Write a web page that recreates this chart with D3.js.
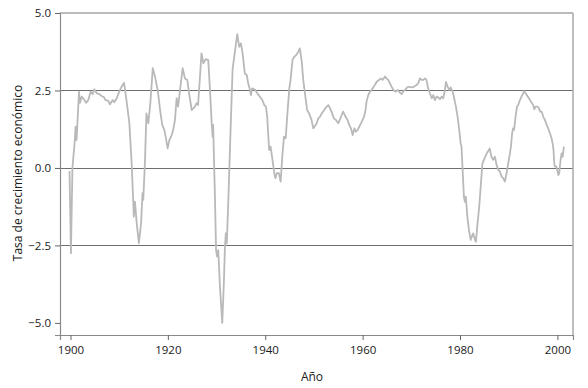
<!DOCTYPE html>
<html><head><meta charset="utf-8">
<script src="https://cdn.jsdelivr.net/npm/d3@7"></script>
<style>
html,body{margin:0;padding:0;background:#fff;}
text{font-family:"Open Sans","Noto Sans",sans-serif;fill:#1a1a1a;}
</style></head>
<body><svg id="c" width="588" height="388"></svg>
<script>
const years = [1899.8,1900.1,1900.4,1900.85,1901.05,1901.25,1901.75,1901.95,1902.3,1902.75,1903.2,1903.65,1904.15,1904.55,1904.9,1905.4,1905.85,1906.4,1906.9,1907.2,1907.75,1908.1,1908.65,1909.0,1909.5,1910.0,1910.5,1911.0,1911.5,1912.1,1912.6,1912.9,1913.0,1913.25,1913.6,1914.05,1914.5,1914.8,1914.95,1915.3,1915.6,1916.0,1916.4,1916.9,1917.35,1917.9,1918.17,1918.4,1918.85,1919.27,1919.6,1919.95,1920.3,1920.8,1921.1,1921.46,1921.8,1922.1,1922.5,1923.04,1923.5,1924.0,1924.3,1924.9,1925.56,1925.9,1926.2,1926.6,1926.9,1927.3,1927.76,1928.3,1928.65,1929.0,1929.2,1929.3,1929.67,1929.9,1930.1,1930.35,1930.7,1931.17,1931.5,1931.7,1931.9,1932.1,1932.4,1932.9,1933.3,1934.25,1934.65,1935.0,1935.35,1935.8,1936.2,1936.5,1936.86,1937.06,1937.3,1937.9,1938.36,1938.9,1939.4,1939.8,1940.14,1940.4,1940.8,1941.1,1941.4,1941.85,1942.1,1942.35,1942.8,1943.16,1943.5,1943.84,1944.2,1944.5,1944.94,1945.2,1945.6,1945.96,1946.4,1946.8,1947.1,1947.5,1947.8,1948.15,1948.6,1949.0,1949.5,1949.86,1950.2,1950.5,1950.9,1951.23,1951.6,1952.1,1952.6,1952.94,1953.3,1953.6,1954.1,1954.5,1955.0,1955.3,1955.7,1956.0,1956.5,1956.9,1957.25,1957.6,1957.95,1958.3,1958.6,1958.97,1959.3,1959.8,1960.27,1960.6,1960.8,1961.15,1961.5,1961.85,1962.2,1962.5,1962.9,1963.35,1963.76,1964.1,1964.6,1964.9,1965.26,1965.6,1965.95,1966.3,1966.8,1967.2,1967.66,1968.0,1968.3,1968.7,1969.15,1969.57,1970.05,1970.5,1971.1,1971.4,1971.77,1972.1,1972.45,1972.8,1973.1,1973.45,1973.8,1974.2,1974.5,1974.85,1975.2,1975.5,1975.87,1976.2,1976.55,1976.9,1977.1,1977.45,1977.8,1978.07,1978.5,1978.8,1979.16,1979.5,1979.84,1980.12,1980.3,1980.5,1980.8,1981.0,1981.2,1981.5,1981.83,1982.2,1982.4,1982.7,1983.06,1983.26,1983.6,1983.94,1984.3,1984.6,1985.1,1985.6,1986.1,1986.45,1986.8,1987.17,1987.5,1987.85,1988.2,1988.55,1988.87,1989.2,1989.57,1989.9,1990.25,1990.45,1990.7,1990.9,1991.1,1991.4,1991.7,1991.95,1992.3,1992.77,1993.2,1993.7,1994.15,1994.56,1995.03,1995.24,1995.5,1995.9,1996.2,1996.47,1996.75,1997.1,1997.43,1997.8,1998.1,1998.46,1998.8,1999.0,1999.2,1999.35,1999.5,1999.8,2000.2,2000.37,2000.65,2000.86,2001.07,2001.33];
const growth = [-0.1,-2.75,0.0,0.8,1.33,0.9,2.46,2.1,2.3,2.22,2.1,2.19,2.46,2.38,2.54,2.41,2.39,2.32,2.28,2.19,2.17,2.05,2.19,2.12,2.25,2.46,2.62,2.75,2.19,1.44,0.04,-1.13,-1.57,-1.09,-1.78,-2.43,-1.78,-0.81,-1.03,0.2,1.76,1.44,2.09,3.22,2.95,2.52,2.19,1.87,1.39,1.23,0.96,0.63,0.9,1.06,1.23,1.55,2.25,1.98,2.52,3.22,2.89,2.84,2.46,1.87,1.98,2.09,2.03,2.95,3.7,3.38,3.51,3.48,2.52,1.44,1.01,1.39,-0.93,-2.65,-2.86,-2.65,-3.83,-5.0,-3.72,-2.65,-2.11,-2.43,-1.14,1.33,3.2,4.32,3.91,4.02,3.7,3.05,3.0,2.73,2.52,2.35,2.57,2.52,2.41,2.3,2.19,2.03,1.98,1.65,0.58,0.69,0.36,-0.17,-0.33,-0.17,-0.17,-0.44,0.36,1.01,0.96,1.65,2.57,2.84,3.48,3.59,3.65,3.75,3.86,3.43,2.84,2.41,1.87,1.76,1.55,1.28,1.35,1.42,1.6,1.65,1.76,1.87,1.98,2.03,1.93,1.82,1.6,1.55,1.44,1.55,1.71,1.82,1.65,1.55,1.39,1.28,1.06,1.28,1.17,1.23,1.33,1.49,1.65,1.87,2.14,2.35,2.46,2.52,2.6,2.68,2.78,2.84,2.89,2.84,2.95,2.89,2.84,2.73,2.62,2.52,2.46,2.52,2.43,2.38,2.46,2.52,2.6,2.62,2.6,2.62,2.68,2.73,2.89,2.84,2.84,2.89,2.84,2.57,2.41,2.25,2.35,2.19,2.3,2.28,2.22,2.3,2.25,2.52,2.78,2.62,2.52,2.6,2.46,2.25,1.98,1.65,1.23,0.8,0.69,0.04,-0.93,-1.09,-0.93,-1.57,-2.0,-2.32,-2.22,-2.11,-2.32,-2.38,-1.78,-1.25,-0.49,0.15,0.33,0.5,0.63,0.36,0.26,0.36,0.1,-0.06,-0.12,-0.28,-0.33,-0.44,-0.17,0.15,0.47,0.69,1.12,1.28,1.23,1.65,1.98,2.03,2.19,2.35,2.48,2.35,2.25,2.14,2.03,1.89,1.98,1.98,1.93,1.82,1.82,1.65,1.55,1.39,1.28,1.12,0.96,0.8,0.58,0.15,0.04,0.04,-0.23,-0.17,0.26,0.47,0.36,0.69];
const xTicks = [1900,1920,1940,1960,1980,2000];
const yTicks = [-5.0,-2.5,0.0,2.5,5.0];
const gridValues = [-2.5,0.0,2.5];
const xLabel = "Año";
const yLabel = "Tasa de crecimiento económico";

const svg = d3.select("#c");
const L = 60, R = 573, T = 13, B = 335;
const x = d3.scaleLinear().domain([1897.85, 2003.2]).range([L, R]);
const y = d3.scaleLinear().domain([-5.39, 5]).range([B, T]);

// gridlines
svg.append("g").selectAll("line").data(gridValues).join("line")
  .attr("x1", L).attr("x2", R)
  .attr("y1", d => Math.round(y(d)) + 0.5).attr("y2", d => Math.round(y(d)) + 0.5)
  .attr("stroke", "#6f6f6f").attr("stroke-width", 1.1);

// frame top & right
svg.append("line").attr("x1", L).attr("x2", R).attr("y1", y(5)).attr("y2", y(5))
  .attr("stroke", "#a3a3a3").attr("stroke-width", 1.4);
svg.append("line").attr("x1", R).attr("x2", R).attr("y1", y(5)).attr("y2", B)
  .attr("stroke", "#a3a3a3").attr("stroke-width", 1.4);

// data line
const line = d3.line().x((d, i) => x(years[i])).y(d => y(d));
svg.append("path").datum(growth).attr("d", line)
  .attr("fill", "none").attr("stroke", "#b9b9b9").attr("stroke-width", 1.8)
  .attr("stroke-linejoin", "round");

// axes
const yAxis = d3.axisLeft(y).tickValues(yTicks).tickFormat(d3.format(".1f")).tickSizeOuter(0).tickSize(5).tickPadding(4);
const gy = svg.append("g").attr("transform", `translate(${L},0)`).call(yAxis);
const xAxis = d3.axisBottom(x).tickValues(xTicks).tickFormat(d3.format("d")).tickSizeOuter(0).tickSize(5).tickPadding(6);
const gx = svg.append("g").attr("transform", `translate(0,${B})`).call(xAxis);
[gx, gy].forEach(g => {
  g.select(".domain").attr("stroke", "#8a8a8a").attr("stroke-width", 1.2);
  g.selectAll(".tick line").attr("stroke", "#666");
  g.selectAll(".tick text").attr("font-size", "11.5px").attr("fill", "#1a1a1a")
    .attr("font-family", '"Open Sans","Noto Sans",sans-serif');
});

svg.append("text").attr("x", 312).attr("y", 381).attr("text-anchor", "middle")
  .attr("font-size", "12px").text(xLabel);
svg.append("text").attr("transform", "translate(22,173) rotate(-90)")
  .attr("text-anchor", "middle").attr("font-size", "12px").text(yLabel);
</script></body></html>
